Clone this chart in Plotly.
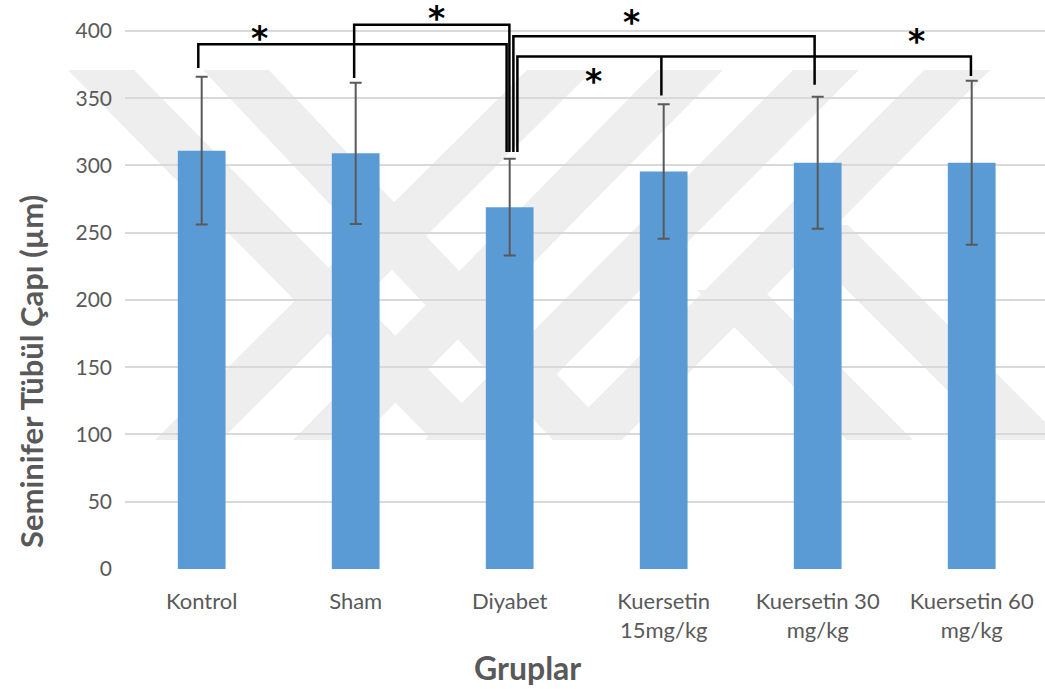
import plotly.graph_objects as go

# ---------------- data ----------------
categories = ["Kontrol", "Sham", "Diyabet", "Kuersetin<br>15mg/kg",
              "Kuersetin 30<br>mg/kg", "Kuersetin 60<br>mg/kg"]
means = [311, 309, 269, 295.5, 302, 302]
sds = [55, 52.5, 36, 50, 49, 61]
y_ticks = [0, 50, 100, 150, 200, 250, 300, 350, 400]

# significance brackets: (left idx, left end y, right idx, right end y, top y)
brackets = [
    (0, 372.5, 2, 310, 390),
    (1, 365, 2, 310, 404.5),
    (2, 310, 4, 360, 396),
    (2, 310, 5, 366.5, 381),
]
bracket_offsets = [(-0.022, -0.02), (-0.01, -0.002), (0.024, -0.02), (0.05, -0.005)]
extra_drop = (3, 352, 381)  # K15 drop from bracket 4
stars = [(0.378, 399), (1.526, 414), (2.788, 411), (2.547, 366.5), (4.64, 396.7)]

# ---------------- geometry helpers ----------------
W, H = 1045, 689
ML, MR, MT, MB = 125, 0, 4, 120
PW, PH = W - ML - MR, H - MT - MB


def px2paper(px, py):
    return (px - ML) / PW, (H - MB - py) / PH


fig = go.Figure()
fig.add_trace(go.Bar(
    x=list(range(len(categories))), y=means, width=0.31,
    marker=dict(color="#5B9BD5", line=dict(width=0)),
    error_y=dict(type="data", array=sds, visible=True, color="#595959",
                 thickness=2, width=6),
    showlegend=False,
))

shapes = []
# watermark (light grey diagonal bands)
bands = [
    (101, 70, 465, 440), (236, 70, 586, 440),
    (560, 70, 188, 440), (690, 70, 326, 440),
    (826, 70, 458, 440), (957, 70, 589, 440),
    (730, 290, 880, 440), (815, 225, 1030, 440),
]
bw = 66
for xt, yt, xb, yb in bands:
    pts = [(xt - bw / 2, yt), (xt + bw / 2, yt), (xb + bw / 2, yb), (xb - bw / 2, yb)]
    pp = [px2paper(a, b) for a, b in pts]
    path = "M " + " L ".join(f"{a:.4f},{b:.4f}" for a, b in pp) + " Z"
    shapes.append(dict(type="path", xref="paper", yref="paper", path=path,
                       fillcolor="#eeeeee", line=dict(width=0), layer="below"))

for (li, ly, ri, ry, top), (lo, ro) in zip(brackets, bracket_offsets):
    xl, xr = li + lo, ri + ro
    shapes.append(dict(type="path", xref="x", yref="y",
                       path=f"M {xl},{ly} L {xl},{top} L {xr},{top} L {xr},{ry}",
                       line=dict(color="black", width=2.5)))
di, dy, dtop = extra_drop
shapes.append(dict(type="line", xref="x", yref="y", x0=di - 0.015, x1=di - 0.015,
                   y0=dtop, y1=dy, line=dict(color="black", width=2.5)))

annotations = []
for sx, sy in stars:
    annotations.append(dict(x=sx, y=sy, xref="x", yref="y", text="<b>*</b>",
                            showarrow=False, yshift=-6,
                            font=dict(family="DejaVu Sans", size=33, color="black")))

tx, ty = px2paper(31, 372)
annotations.append(dict(x=tx, y=ty, xref="paper", yref="paper",
                        text="<b>Seminifer Tübül Çapı (µm)</b>", textangle=-90,
                        showarrow=False, xanchor="center", yanchor="middle",
                        font=dict(family="Lato", size=31, color="#595959")))
gx, gy = px2paper(527, 667)
annotations.append(dict(x=gx, y=gy, xref="paper", yref="paper",
                        text="<b>Gruplar</b>", showarrow=False,
                        xanchor="center", yanchor="middle",
                        font=dict(family="Lato", size=32, color="#595959")))

fig.update_layout(
    width=W, height=H,
    margin=dict(l=ML, r=MR, t=MT, b=MB, pad=0),
    paper_bgcolor="white", plot_bgcolor="white",
    shapes=shapes, annotations=annotations,
    xaxis=dict(tickmode="array", tickvals=list(range(len(categories))),
               ticktext=categories, range=[-0.498, 5.476], showgrid=False,
               zeroline=False, showline=False, ticks="",
               tickfont=dict(family="Lato", size=22, color="#595959"),
               ticklabelstandoff=17, fixedrange=True),
    yaxis=dict(range=[0, 420], tickvals=y_ticks, showgrid=True,
               gridcolor="#d9d9d9", gridwidth=2, zeroline=False,
               showline=False, ticks="",
               tickfont=dict(family="Lato", size=21, color="#595959"),
               ticklabelstandoff=12, fixedrange=True),
    bargap=0.69,
)

fig.write_html("out.html")
